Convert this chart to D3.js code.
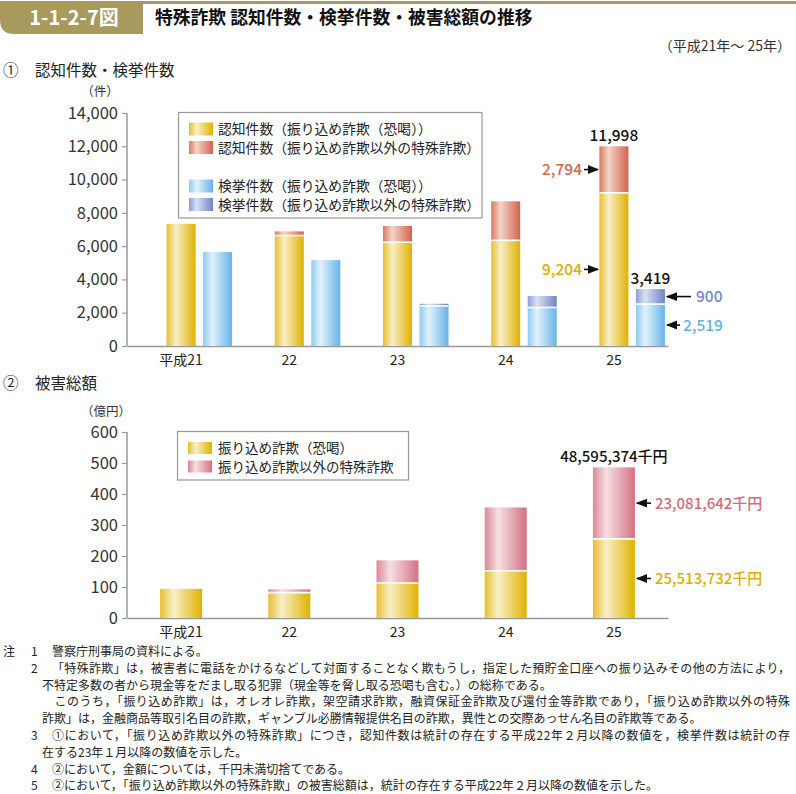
<!DOCTYPE html>
<html><head><meta charset="utf-8">
<script src="https://cdn.jsdelivr.net/npm/d3@7"></script>
<style>
html,body{margin:0;padding:0;background:#fff;}
svg{display:block;font-family:"Noto Sans CJK JP","Noto Sans",sans-serif;}
</style></head>
<body>
<svg id="c" width="796" height="794"></svg>
<script>
// ---- data ----
const years = ["平成21", "22", "23", "24", "25"];
const recogFurikome = [7340, 6637, 6233, 6348, 9204];
const recogOther = [0, 251, 983, 2345, 2794];
const arrestFurikome = [5650, 5160, 2410, 2315, 2519];
const arrestOther = [0, 0, 130, 685, 900];
const countTicks = [0, 2000, 4000, 6000, 8000, 10000, 12000, 14000];
const damageFurikome = [94, 82, 113, 152.6, 255.1];
const damageOther = [0, 10.5, 73, 204, 230.8];
const damageTicks = [0, 100, 200, 300, 400, 500, 600];
const legendTop = ["認知件数（振り込め詐欺（恐喝））", "認知件数（振り込め詐欺以外の特殊詐欺）", "検挙件数（振り込め詐欺（恐喝））", "検挙件数（振り込め詐欺以外の特殊詐欺）"];
const legendBottom = ["振り込め詐欺（恐喝）", "振り込め詐欺以外の特殊詐欺"];
const notes = [
  ["注", "1", "警察庁刑事局の資料による。"],
  ["", "2", "「特殊詐欺」は，被害者に電話をかけるなどして対面することなく欺もうし，指定した預貯金口座への振り込みその他の方法により，"],
  ["", "", "不特定多数の者から現金等をだまし取る犯罪（現金等を脅し取る恐喝も含む。）の総称である。"],
  ["", "", "　このうち，「振り込め詐欺」は，オレオレ詐欺，架空請求詐欺，融資保証金詐欺及び還付金等詐欺であり，「振り込め詐欺以外の特殊"],
  ["", "", "詐欺」は，金融商品等取引名目の詐欺，ギャンブル必勝情報提供名目の詐欺，異性との交際あっせん名目の詐欺等である。"],
  ["", "3", "①において，「振り込め詐欺以外の特殊詐欺」につき，認知件数は統計の存在する平成22年２月以降の数値を，検挙件数は統計の存"],
  ["", "", "在する23年１月以降の数値を示した。"],
  ["", "4", "②において，金額については，千円未満切捨てである。"],
  ["", "5", "②において，「振り込め詐欺以外の特殊詐欺」の被害総額は，統計の存在する平成22年２月以降の数値を示した。"]
];

const svg = d3.select("#c");
const defs = svg.append("defs");
function grad(id, c0, c1, c2) {
  const g = defs.append("linearGradient").attr("id", id).attr("x1", 0).attr("x2", 1).attr("y1", 0).attr("y2", 0);
  g.append("stop").attr("offset", "0%").attr("stop-color", c0);
  g.append("stop").attr("offset", "32%").attr("stop-color", c1);
  g.append("stop").attr("offset", "100%").attr("stop-color", c2);
}
grad("gY", "#e6bf2c", "#f8efc8", "#e0b200");
grad("gR", "#d97a62", "#f2d5c8", "#d4624c");
grad("gB", "#8fcaf0", "#e2f2fc", "#66b3e7");
grad("gP", "#8c9dd6", "#d9e0f3", "#7083c6");
grad("gK", "#d98896", "#f6e0e3", "#d27282");

const GOLD = "#a8995c";
// header
svg.append("rect").attr("x", 0).attr("y", 1).attr("width", 796).attr("height", 3).attr("fill", GOLD);
svg.append("path").attr("d", "M0,1 H143 V34 H14 Q0,34 0,20 Z").attr("fill", GOLD);
svg.append("text").attr("x", 74).attr("y", 25).attr("text-anchor", "middle").attr("fill", "#fff")
  .attr("font-size", 20).attr("font-weight", "bold").text("1-1-2-7図");
svg.append("text").attr("x", 155).attr("y", 24).attr("fill", "#111").attr("font-size", 17.8).attr("font-weight", "bold")
  .text("特殊詐欺 認知件数・検挙件数・被害総額の推移");
svg.append("text").attr("x", 791).attr("y", 51).attr("text-anchor", "end").attr("fill", "#333").attr("font-size", 14)
  .text("（平成21年～ 25年）");

// ---- common ----
const x = d3.scaleBand().domain(years).range([127, 668]).paddingInner(0).paddingOuter(0);
const cx = d => x(d) + x.bandwidth() / 2;

function drawAxes(y, ticks, fmt, baseY, topY) {
  const g = svg.append("g").attr("transform", "translate(127,0)");
  g.call(d3.axisLeft(y).tickValues(ticks).tickFormat(fmt).tickSize(5).tickPadding(4));
  g.select(".domain").attr("stroke", "#999").attr("stroke-width", 1.5).attr("d", `M0,${topY}V${baseY}`);
  g.selectAll(".tick line").attr("stroke", "#999").attr("stroke-width", 1.2);
  g.selectAll(".tick text").attr("fill", "#333").attr("font-size", 16.5).attr("font-family", "'Noto Sans CJK JP',sans-serif");
  const gx = svg.append("g").attr("transform", `translate(0,${baseY})`);
  gx.call(d3.axisBottom(x).tickSize(0).tickPadding(8));
  gx.select(".domain").attr("stroke", "#999").attr("stroke-width", 1.5);
  gx.selectAll(".tick text").attr("fill", "#222").attr("font-size", 14).attr("font-family", "'Noto Sans CJK JP',sans-serif")
    .attr("transform", "translate(0,1)");
}

function stack(x0, w, y, lower, upper, fillL, fillU) {
  const g = svg.append("g");
  years.forEach((yr, i) => {
    const xx = x0(yr);
    const a = lower[i], b = upper[i];
    g.append("rect").attr("x", xx).attr("width", w).attr("y", y(a)).attr("height", y(0) - y(a)).attr("fill", `url(#${fillL})`);
    if (b > 0) {
      g.append("rect").attr("x", xx).attr("width", w).attr("y", y(a + b)).attr("height", y(a) - y(a + b)).attr("fill", `url(#${fillU})`);
      g.append("line").attr("x1", xx).attr("x2", xx + w).attr("y1", y(a)).attr("y2", y(a)).attr("stroke", "#fff").attr("stroke-width", 1.6);
    }
  });
}

function arrowMarker(id) {
  defs.append("marker").attr("id", id).attr("viewBox", "0 0 10 10").attr("refX", 9).attr("refY", 5)
    .attr("markerWidth", 7).attr("markerHeight", 7).attr("orient", "auto-start-reverse")
    .append("path").attr("d", "M0,1 L10,5 L0,9 Z").attr("fill", "#111");
}
arrowMarker("arr");
function arrow(x1, x2, yy) {
  svg.append("line").attr("x1", x1).attr("x2", x2).attr("y1", yy).attr("y2", yy)
    .attr("stroke", "#111").attr("stroke-width", 1.6).attr("marker-end", "url(#arr)");
}

// ---- chart 1 ----
svg.append("text").attr("x", 3).attr("y", 76).attr("font-size", 15.5).attr("fill", "#222").text("①");
svg.append("text").attr("x", 35).attr("y", 76).attr("font-size", 15.5).attr("fill", "#222").text("認知件数・検挙件数");
svg.append("text").attr("x", 100).attr("y", 96).attr("text-anchor", "middle").attr("font-size", 12.5).attr("fill", "#333").text("（件）");

const y1 = d3.scaleLinear().domain([0, 14000]).range([346, 113]);
drawAxes(y1, countTicks, d3.format(","), 346, 113);
stack(d => cx(d) - 14.5, 29, y1, recogFurikome, recogOther, "gY", "gR");
stack(d => cx(d) + 22, 29, y1, arrestFurikome, arrestOther, "gB", "gP");

// legend 1
svg.append("rect").attr("x", 178.5).attr("y", 112.5).attr("width", 303.5).attr("height", 105.5)
  .attr("fill", "#fff").attr("stroke", "#999").attr("stroke-width", 1.2);
const lgY = [129, 147.5, 186, 204.5];
const lgF = ["gY", "gR", "gB", "gP"];
legendTop.forEach((t, i) => {
  svg.append("rect").attr("x", 189).attr("y", lgY[i] - 6.5).attr("width", 24).attr("height", 13).attr("fill", `url(#${lgF[i]})`);
  svg.append("text").attr("x", 218).attr("y", lgY[i] + 5).attr("font-size", 13.8).attr("fill", "#222").text(t);
});

// annotations chart 1
const i25 = years.length - 1;
const rTot = recogFurikome[i25] + recogOther[i25];
const aTot = arrestFurikome[i25] + arrestOther[i25];
const rc = cx(years[i25]);
svg.append("text").attr("x", rc).attr("y", y1(rTot) - 5).attr("text-anchor", "middle").attr("font-size", 15.5).attr("font-weight", 500).attr("fill", "#111")
  .text(d3.format(",")(rTot));
svg.append("text").attr("x", rc + 36.5).attr("y", y1(aTot) - 5).attr("text-anchor", "middle").attr("font-size", 15.5).attr("font-weight", 500).attr("fill", "#111")
  .text(d3.format(",")(aTot));
const yR = (y1(recogFurikome[i25]) + y1(rTot)) / 2;
const yYl = (y1(0) + y1(recogFurikome[i25])) / 2;
svg.append("text").attr("x", 582).attr("y", yR + 5.5).attr("text-anchor", "end").attr("font-size", 15.5).attr("font-weight", 500).attr("fill", "#d9654c").text(d3.format(",")(recogOther[i25]));
arrow(584, 598, yR);
svg.append("text").attr("x", 582).attr("y", yYl + 5.5).attr("text-anchor", "end").attr("font-size", 15.5).attr("font-weight", 500).attr("fill", "#e0ad00").text(d3.format(",")(recogFurikome[i25]));
arrow(584, 598, yYl);
const yP = (y1(arrestFurikome[i25]) + y1(aTot)) / 2;
const yB = (y1(0) + y1(arrestFurikome[i25])) / 2;
arrow(691, 667, yP);
svg.append("text").attr("x", 696).attr("y", yP + 5.5).attr("font-size", 15.5).attr("font-weight", 500).attr("fill", "#7588c8").text(d3.format(",")(arrestOther[i25]));
arrow(680, 667, yB);
svg.append("text").attr("x", 683).attr("y", yB + 5.5).attr("font-size", 15.5).attr("font-weight", 500).attr("fill", "#62b4e8").text(d3.format(",")(arrestFurikome[i25]));

// ---- chart 2 ----
svg.append("text").attr("x", 3).attr("y", 389).attr("font-size", 15.5).attr("fill", "#222").text("②");
svg.append("text").attr("x", 35).attr("y", 389).attr("font-size", 15.5).attr("fill", "#222").text("被害総額");
svg.append("text").attr("x", 106).attr("y", 416).attr("text-anchor", "middle").attr("font-size", 12.5).attr("fill", "#333").text("（億円）");

const y2 = d3.scaleLinear().domain([0, 600]).range([618, 432]);
drawAxes(y2, damageTicks, d3.format("d"), 618, 432);
stack(d => cx(d) - 21, 42, y2, damageFurikome, damageOther, "gY", "gK");

svg.append("rect").attr("x", 177.5).attr("y", 431.5).attr("width", 231).attr("height", 48.5)
  .attr("fill", "#fff").attr("stroke", "#999").attr("stroke-width", 1.2);
const lg2Y = [448, 466.5];
const lg2F = ["gY", "gK"];
legendBottom.forEach((t, i) => {
  svg.append("rect").attr("x", 188).attr("y", lg2Y[i] - 6).attr("width", 24).attr("height", 12).attr("fill", `url(#${lg2F[i]})`);
  svg.append("text").attr("x", 218).attr("y", lg2Y[i] + 5).attr("font-size", 13.5).attr("fill", "#222").text(t);
});

const dTotTxt = "48,595,374千円";
const dOthTxt = "23,081,642千円";
const dFurTxt = "25,513,732千円";
const dTot = damageFurikome[i25] + damageOther[i25];
const dc = cx(years[i25]);
svg.append("text").attr("x", dc).attr("y", y2(dTot) - 5).attr("text-anchor", "middle").attr("font-size", 15).attr("font-weight", 500).attr("fill", "#111").text(dTotTxt);
const yK = (y2(damageFurikome[i25]) + y2(dTot)) / 2;
const yK2 = (y2(0) + y2(damageFurikome[i25])) / 2;
arrow(651, 637, yK);
svg.append("text").attr("x", 655).attr("y", yK + 5.5).attr("font-size", 15).attr("font-weight", 500).attr("fill", "#d56a78").text(dOthTxt);
arrow(651, 637, yK2);
svg.append("text").attr("x", 655).attr("y", yK2 + 5.5).attr("font-size", 15).attr("font-weight", 500).attr("fill", "#e0ad00").text(dFurTxt);

// ---- notes ----
const ng = svg.append("g").attr("font-size", 12).attr("fill", "#222");
notes.forEach((n, i) => {
  const yy = 656 + i * 16.8;
  if (n[0]) ng.append("text").attr("x", 3).attr("y", yy).text(n[0]);
  if (n[1]) ng.append("text").attr("x", 31).attr("y", yy).text(n[1]);
  const tx = n[1] ? 52 : 42;
  const t = ng.append("text").attr("x", tx).attr("y", yy).text(n[2]);
  if (i === 1 || i === 3 || i === 5) t.attr("textLength", 790 - tx).attr("lengthAdjust", "spacing");
});
</script>
</body></html>
